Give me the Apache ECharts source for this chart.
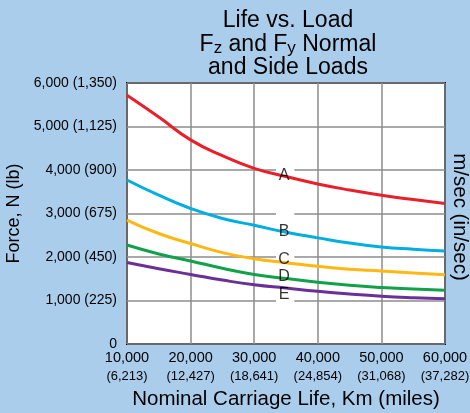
<!DOCTYPE html>
<html><head><meta charset="utf-8">
<script src="https://cdn.jsdelivr.net/npm/echarts@6/dist/echarts.min.js"></script>
<style>html,body{margin:0;padding:0;background:#abcdec;}#c{width:470px;height:413px;}</style>
</head><body><div id="c"></div>
<script>
var xValues = [10000,15000,20000,25000,30000,35000,40000,45000,50000,55000,60000];
var seriesA = [5716,5217,4693,4330,4039,3850,3680,3540,3420,3320,3230];
var seriesB = [3770,3420,3115,2885,2730,2570,2440,2320,2230,2180,2140];
var seriesC = [2850,2540,2310,2100,1960,1870,1785,1720,1677,1630,1590];
var seriesD = [2275,2070,1910,1740,1600,1505,1420,1350,1300,1265,1233];
var seriesE = [1872,1730,1600,1470,1360,1285,1210,1150,1100,1065,1040];
var curveNames = ['A','B','C','D','E'];
var curveColors = ['#e8202a','#00aee0','#fdb813','#12a14b','#6a3096'];
var labelX = 34700;
var labelY = [3871,2581,1935,1544,1129];
var yTicks = [0,1000,2000,3000,4000,5000,6000];
var yTickLabels = ['0','1,000 (225)','2,000 (450)','3,000 (675)','4,000 (900)','5,000 (1,125)','6,000 (1,350)'];
var xTicks = [10000,20000,30000,40000,50000,60000];
var xTickKm = ['10,000','20,000','30,000','40,000','50,000','60,000'];
var xTickMiles = ['(6,213)','(12,427)','(18,641)','(24,854)','(31,068)','(37,282)'];

var sans = '"Liberation Sans",Arial,sans-serif';
var all = [seriesA,seriesB,seriesC,seriesD,seriesE];
var series = all.map(function(vals,i){
  return {type:'line', name:curveNames[i], smooth:0.5, symbol:'none', z:2,
    lineStyle:{color:curveColors[i], width:3},
    data: xValues.map(function(x,j){return [x, vals[j]];})};
});
series.push({type:'scatter', z:10, symbolSize:0, silent:true,
  data: curveNames.map(function(n,i){return {name:n, value:[labelX, labelY[i]]};}),
  label:{show:true, position:'inside', formatter:'{b}', color:'#000', fontSize:16, fontFamily:sans},
  markArea:{silent:true, itemStyle:{color:'#fff', borderWidth:0},
    data:[[{xAxis:33430, yAxis:4190},{xAxis:36310, yAxis:875}]]}
});

var chart = echarts.init(document.getElementById('c'));
chart.setOption({
  backgroundColor:'#abcdec',
  animation:false,
  grid:{left:127, right:25, top:83, bottom:69, containLabel:false, outerBoundsMode:'none',
    show:true, backgroundColor:'#fff', borderColor:'#000', borderWidth:2},
  xAxis:{type:'value', min:10000, max:60000, interval:10000,
    axisLine:{show:false}, axisTick:{show:false},
    splitLine:{lineStyle:{color:'#8c8c8c', width:1.5}},
    axisLabel:{margin:4, showMinLabel:true, showMaxLabel:true, hideOverlap:false,
      formatter:function(v){var i=xTicks.indexOf(v); return '{a|'+xTickKm[i]+'}\n{b|'+xTickMiles[i]+'}';},
      rich:{a:{fontSize:14.5, lineHeight:19, fontFamily:sans, color:'#000'}, b:{fontSize:13, lineHeight:18, fontFamily:sans, color:'#000'}}},
    name:'Nominal Carriage Life, Km (miles)', nameLocation:'middle', nameGap:45,
    nameTextStyle:{fontSize:20.5, fontFamily:sans, color:'#000'}},
  yAxis:{type:'value', min:0, max:6000, interval:1000,
    axisLine:{show:false}, axisTick:{show:false},
    splitLine:{lineStyle:{color:'#8c8c8c', width:1.5}},
    axisLabel:{margin:10, fontSize:14, fontFamily:sans, color:'#000',
      formatter:function(v){return yTickLabels[yTicks.indexOf(v)];}},
    name:'Force, N (lb)', nameLocation:'middle', nameGap:96, nameRotate:90,
    nameTextStyle:{fontSize:18, fontFamily:sans, color:'#000'}},
  graphic:[
    {type:'text', x:288, y:9, style:{
      text:'{t|Life vs. Load}\n{t|F}{s|z}{t| and F}{s|y}{t| Normal}\n{t|and Side Loads}',
      align:'center', verticalAlign:'top', fill:'#000',
      rich:{t:{fontSize:23, lineHeight:23.5, fontFamily:sans, verticalAlign:'middle'},
            s:{fontSize:17, lineHeight:16, fontFamily:sans, padding:[8,0,0,0], verticalAlign:'middle'}}}},
    {type:'text', x:460, y:217, rotation:-Math.PI/2, style:{
      text:'m/sec (in/sec)', align:'center', verticalAlign:'middle', fontSize:20.5, fontFamily:sans, fill:'#000'}}
  ],
  series: series
});
</script></body></html>
